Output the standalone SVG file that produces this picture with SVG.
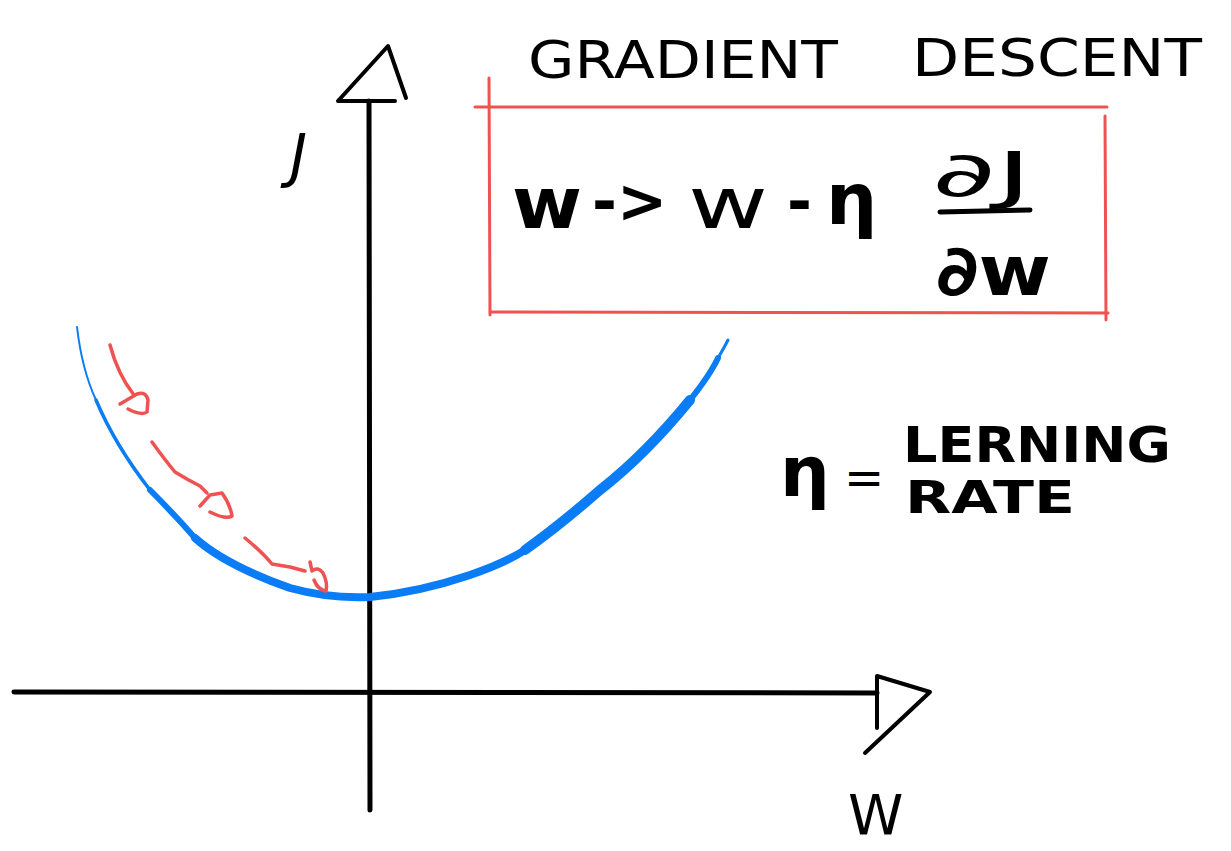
<svg xmlns="http://www.w3.org/2000/svg" width="1231" height="851" viewBox="0 0 1231 851">
<style>
.ink{fill:none;stroke:#000;stroke-linecap:round;stroke-linejoin:round}
.red{fill:none;stroke:#f05252;stroke-linecap:round;stroke-linejoin:round}
.blue{fill:none;stroke:#0a7cf5;stroke-linecap:round;stroke-linejoin:round}
.hand{font-family:"DejaVu Sans","Liberation Sans",sans-serif;fill:#000}
</style>
<rect width="1231" height="851" fill="#fff"/>
<g id="y-axis">
  <path class="ink" stroke-width="5" d="M369 101 L370 810"/>
  <path class="ink" stroke-width="4" d="M395 101 L338 101 L388 46 L406 98"/>
  <text class="hand" x="290" y="176" font-size="58" font-style="italic">J</text>
</g>
<g id="x-axis">
  <path class="ink" stroke-width="5" d="M14 692 L877 693"/>
  <path class="ink" stroke-width="4" d="M877 728 L877 676 L930 692 L865 753"/>
  <text class="hand" x="848" y="834" font-size="56">W</text>
</g>
<g id="title">
  <text class="hand" x="528" y="78" font-size="52" textLength="310" lengthAdjust="spacingAndGlyphs">GRADIENT</text>
  <text class="hand" x="912" y="76" font-size="52" textLength="290" lengthAdjust="spacingAndGlyphs">DESCENT</text>
</g>
<g id="formula-box">
  <path class="red" stroke-width="3" d="M475 107 L1107 107 M489 78 L490 315 M490 312 L1108 313 M1105 116 L1106 320"/>
  <text class="hand" x="512" y="228" font-size="72" font-weight="bold" textLength="70" lengthAdjust="spacingAndGlyphs">w</text>
  <text class="hand" x="592" y="222" font-size="60" font-weight="bold">-&gt;</text>
  <text class="hand" x="688" y="228" font-size="72" textLength="80" lengthAdjust="spacingAndGlyphs">w</text>
  <text class="hand" x="787" y="222" font-size="60" font-weight="bold">-</text>
  <text class="hand" x="826" y="224" font-size="72" font-weight="bold">η</text>
  <text class="hand" x="932" y="196" font-size="62" textLength="100" lengthAdjust="spacingAndGlyphs">∂J</text>
  <path class="ink" stroke-width="5" d="M940 212 L1030 210"/>
  <text class="hand" x="936" y="295" font-size="70" font-weight="bold" textLength="115" lengthAdjust="spacingAndGlyphs">∂w</text>
</g>
<g id="learning-rate">
  <text class="hand" x="780" y="496" font-size="70" font-weight="bold">η</text>
  <text class="hand" x="844" y="494" font-size="48">=</text>
  <text class="hand" x="903" y="462" font-size="50" font-weight="bold" textLength="268" lengthAdjust="spacingAndGlyphs">LERNING</text>
  <text class="hand" x="905" y="513" font-size="44" font-weight="bold" textLength="170" lengthAdjust="spacingAndGlyphs">RATE</text>
</g>
<g id="cost-curve">
  <path class="blue" stroke-width="2" d="M77 327 Q82 370 96 400"/>
  <path class="blue" stroke-width="3.5" d="M96 400 Q115 445 150 490"/>
  <path class="blue" stroke-width="6" d="M150 490 Q175 515 195 538"/>
  <path class="blue" stroke-width="8" d="M195 538 Q225 565 290 588 Q330 599 370 597 Q420 592 470 575 Q505 563 525 550"/>
  <path class="blue" stroke-width="10" d="M525 550 Q560 525 600 490 Q645 455 690 400"/>
  <path class="blue" stroke-width="6" d="M690 400 Q710 375 718 358"/>
  <path class="blue" stroke-width="3" d="M718 358 Q724 348 728 340"/>
</g>
<g id="connectors">
  <path class="red" stroke-width="3.5" d="M110 345 Q118 375 134 395"/>
  <path class="red" stroke-width="3.5" d="M120 404 L137 394 Q146 391 148 400 L147 412 Q142 416 128 409"/>
  <path class="red" stroke-width="3.5" d="M152 442 Q165 460 175 472 Q188 480 200 486 L207 493"/>
  <path class="red" stroke-width="3.5" d="M200 506 L210 495 L222 493 Q230 504 232 516 Q226 520 210 512"/>
  <path class="red" stroke-width="3.5" d="M245 538 Q262 552 272 564 L290 567 L305 571"/>
  <path class="red" stroke-width="3.5" d="M310 562 L312 571 Q318 566 323 573 Q328 583 326 591 Q318 590 314 580"/>
</g>
</svg>
